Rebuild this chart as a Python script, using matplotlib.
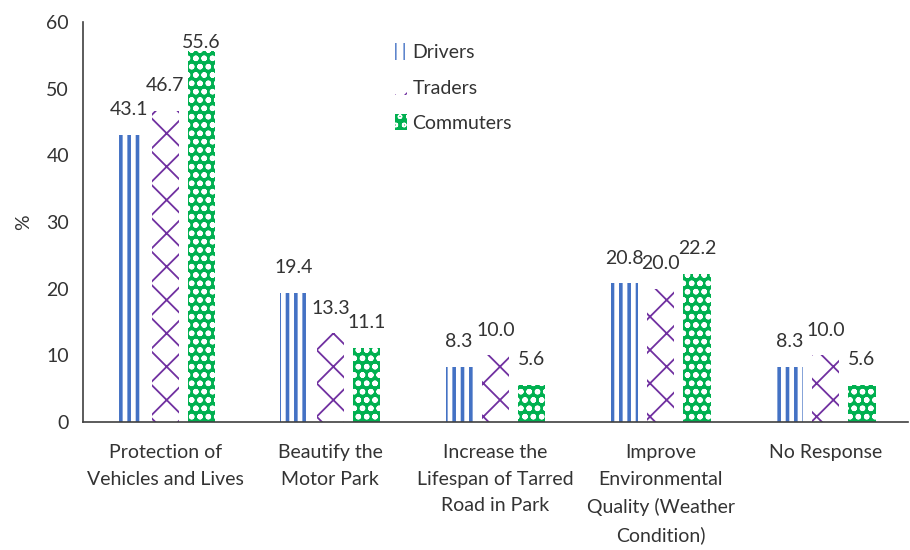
import numpy as np
import matplotlib.pyplot as plt

plt.rcParams['font.family'] = ['Lato', 'DejaVu Sans']

# Data
categories = ["Protection of\nVehicles and Lives", "Beautify the\nMotor Park",
              "Increase the\nLifespan of Tarred\nRoad in Park",
              "Improve\nEnvironmental\nQuality (Weather\nCondition)", "No Response"]
drivers = [43.1, 19.4, 8.3, 20.8, 8.3]
traders = [46.7, 13.3, 10.0, 20.0, 10.0]
commuters = [55.6, 11.1, 5.6, 22.2, 5.6]

series = [
    ("Drivers", drivers, dict(facecolor="white", edgecolor="#4472C4", hatch="||"), 2.6),
    ("Traders", traders, dict(facecolor="white", edgecolor="#7030A0", hatch="x"), 1.3),
    ("Commuters", commuters, dict(facecolor="#00B050", edgecolor="white", hatch="oo"), 1.6),
]

fig = plt.figure(figsize=(9.1, 5.5), dpi=100)
ax = fig.add_axes([0.091, 0.233, 0.907, 0.727])

x = np.arange(len(categories))
width = 0.165
step = 0.22
text_col = "#333333"
fs = 14

for i, (name, vals, style, hlw) in enumerate(series):
    pos = x + (i - 1) * step
    with plt.rc_context({"hatch.linewidth": hlw}):
        ax.bar(pos, vals, width, linewidth=0, label=name, **style)
    for px, v in zip(pos, vals):
        ax.text(px, min(v + 2.5, 55.6), f"{v:.1f}", ha="center", va="bottom",
                fontsize=fs, color=text_col)

ax.set_xlim(-0.5, len(categories) - 0.5)
ax.set_ylim(0, 60)
ax.set_yticks(range(0, 61, 10))
ax.set_xticks(x)
ax.set_xticklabels(categories, fontsize=fs, color=text_col, linespacing=1.68, va="top")
ax.tick_params(axis="both", length=0, labelsize=fs, labelcolor=text_col)
ax.tick_params(axis="x", pad=16)
ax.tick_params(axis="y", pad=10)
ax.set_ylabel("%", fontsize=fs, color=text_col, labelpad=10)

for s in ["top", "right"]:
    ax.spines[s].set_visible(False)
for s in ["left", "bottom"]:
    ax.spines[s].set_color("#404040")
    ax.spines[s].set_linewidth(1.2)

ax.legend(loc="upper left", bbox_to_anchor=(0.357, 0.99), frameon=False,
          fontsize=fs, handlelength=0.6, handleheight=0.9, handletextpad=0.3,
          labelspacing=0.9, labelcolor=text_col)

fig.savefig("out.png", dpi=100)
